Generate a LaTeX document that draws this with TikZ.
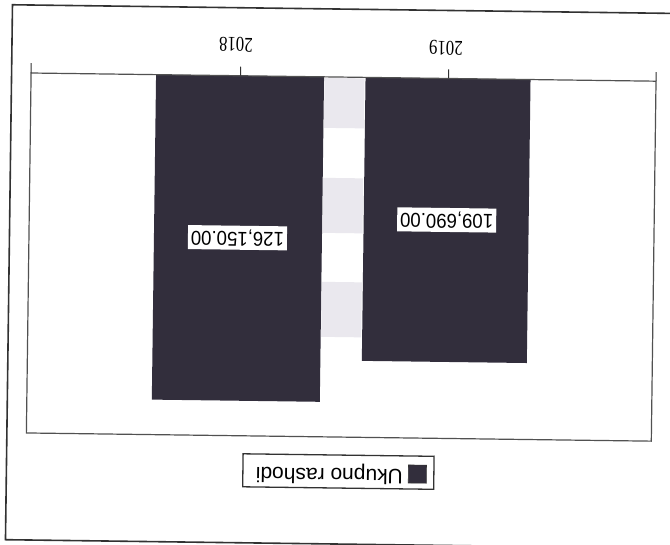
\documentclass[tikz,border=0pt]{standalone}
\usepackage{fontspec}
\setmainfont{Liberation Sans}
\newfontfamily\yearfont[FakeStretch=0.8]{Liberation Serif}
\newfontfamily\valfont[FakeStretch=0.93]{Liberation Sans}
\definecolor{barcol}{RGB}{50,46,60}
\definecolor{linecol}{RGB}{50,50,50}
\definecolor{stipple}{RGB}{234,232,238}
\begin{document}
\begin{tikzpicture}[x=1pt,y=-1pt,
  outerline/.style={draw=linecol, line width=1.6pt},
  frameline/.style={draw=linecol!85, line width=1.2pt},
  tickline/.style={draw=linecol, line width=1pt},
  barshape/.style={fill=barcol},
  patch/.style={fill=stipple},
  yearlbl/.style={font=\yearfont\fontsize{21}{21}\selectfont, rotate=180, inner sep=0pt},
  vallbl/.style={font=\valfont\fontsize{20}{20}\selectfont, rotate=180, fill=white,
    minimum width=99pt, minimum height=24pt, inner sep=0pt},
  legendbox/.style={draw=linecol, line width=1.3pt, fill=white,
    minimum width=191pt, minimum height=33pt, inner sep=0pt, rotate=180},
  legmarker/.style={fill=barcol, draw=linecol, line width=0.6pt, minimum size=18pt, inner sep=0pt, rotate=180},
  legtext/.style={font=\fontsize{21}{21}\selectfont, rotate=180, inner sep=0pt}
]
\useasboundingbox (0,0) rectangle (670,545);
\fill[white] (0,0) rectangle (670,545);
\clip (0,0) rectangle (670,545);
\begin{scope}[rotate around={-0.75:(335,272)}, transform shape]
  % outer frame
  \draw[outerline] (9,9) rectangle (700,544);
  % stipple patches between bars
  \fill[patch] (322,78) rectangle (362,128);
  \fill[patch] (322,178) rectangle (362,233);
  \fill[patch] (322,282) rectangle (362,337);
  % bars
  \fill[barshape] (153.5,77) rectangle (321.5,402);
  \fill[barshape] (363,77) rectangle (528,360.5);
  % plot area frame
  \draw[frameline] (28.5,77) rectangle (653.5,437);
  \draw[tickline] (28.5,77) -- (28.5,67);
  \draw[tickline] (653.5,77) -- (653.5,68);
  \coordinate (t2018) at (238,77);
  \coordinate (t2019) at (446,77);
  \draw[tickline] (t2018) -- ++(0,-9);
  \draw[tickline] (t2019) -- ++(0,-9);
  % category labels
  \node[yearlbl] (y2018) at (233,46) {2018};
  \node[yearlbl] (y2019) at (443,46.5) {2019};
  % value labels
  \node[vallbl] (v2018) at (237,239) {126,150.00};
  \node[vallbl] (v2019) at (446,218.5) {109,690.00};
  % legend
  \node[legendbox] (leg) at (341,471.5) {};
  \node[legmarker] (legmark) at (420,473) {};
  \node[legtext] (legtxt) at (332,474) {Ukupno rashodi};
\end{scope}
\end{tikzpicture}
\end{document}
